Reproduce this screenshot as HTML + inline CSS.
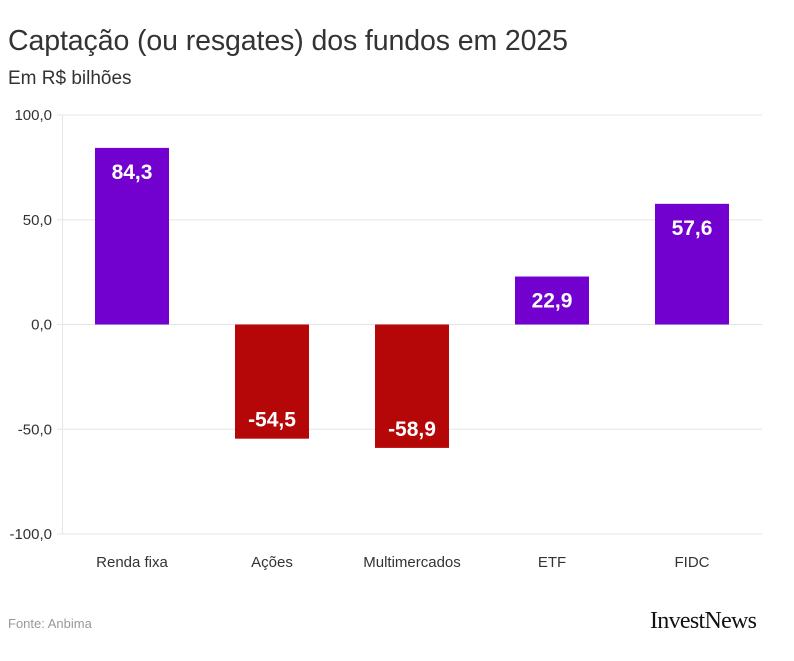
<!DOCTYPE html>
<html><head><meta charset="utf-8"><style>
body{margin:0;background:#fff;width:794px;height:661px;overflow:hidden;font-family:"Liberation Sans",sans-serif}
#title{position:absolute;left:8px;top:25px;font-size:28.5px;color:#333;letter-spacing:-0.1px}
#sub{position:absolute;left:8px;top:68px;font-size:19px;color:#333}
#src{position:absolute;left:8px;top:616px;font-size:13px;color:#999}
#logo{position:absolute;left:650px;top:608px;font-family:"Liberation Serif",serif;font-size:24px;color:#111;letter-spacing:-0.7px}
svg{position:absolute;left:0;top:0}
</style></head><body>
<div id="title">Captação (ou resgates) dos fundos em 2025</div>
<div id="sub">Em R$ bilhões</div>
<svg id="chart" width="794" height="661"></svg>
<div id="src">Fonte: Anbima</div>
<div id="logo">InvestNews</div>
<script>
const categories=["Renda fixa","Ações","Multimercados","ETF","FIDC"];
const values=[84.3,-54.5,-58.9,22.9,57.6];
const ticks=[100,50,0,-50,-100];
const ns="http://www.w3.org/2000/svg";
const svg=document.getElementById('chart');
const x0=62,bandW=140,barW=74;
function y(v){return 324.5-v*2.095;}
function xc(i){return x0+bandW*i+bandW/2;}
function fmt(v){return v.toFixed(1).replace('.',',');}
function mk(t,a){const e=document.createElementNS(ns,t);for(const k in a)e.setAttribute(k,a[k]);svg.appendChild(e);return e;}
ticks.forEach(t=>{
  const l=mk('line',{x1:57,x2:762,y1:y(t),y2:y(t),stroke:'#e6e6e6','stroke-width':1});
  
  
  const tx=mk('text',{x:52,y:y(t)+5,'text-anchor':'end','font-size':15,fill:'#333','font-family':'Liberation Sans, sans-serif'});
  tx.textContent=fmt(t);
  
  
});
const ax=mk('line',{x1:62.5,x2:62.5,y1:y(100),y2:y(-100),stroke:'#e6e6e6'});


categories.forEach((c,i)=>{
  const v=values[i];
  const top=y(Math.max(v,0)),bot=y(Math.min(v,0));
  const r=mk('rect',{x:xc(i)-barW/2,y:top,width:barW,height:bot-top,fill:v>=0?'#7200cf':'#b50707'});
  
  
  const lab=mk('text',{x:xc(i),y:v>=0?top+31:bot-12,'text-anchor':'middle','font-size':21,'font-weight':'bold',fill:'#fff','font-family':'Liberation Sans, sans-serif'});
  lab.textContent=fmt(v);
  
  
  const xl=mk('text',{x:xc(i),y:567,'text-anchor':'middle','font-size':15,fill:'#333','font-family':'Liberation Sans, sans-serif'});
  xl.textContent=c;
  
  
});
</script>
</body></html>
